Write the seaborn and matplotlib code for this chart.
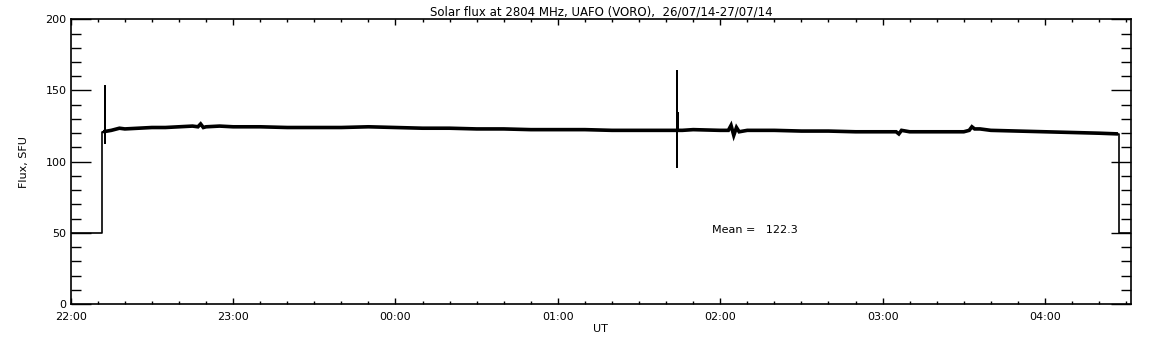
import numpy as np
import pandas as pd
import seaborn as sns
import matplotlib
matplotlib.use("Agg")
import matplotlib.pyplot as plt
from matplotlib.ticker import MultipleLocator, FixedLocator, FixedFormatter

# Time in minutes after 22:00 UT, flux in SFU
trace_min = [12.0, 13.5, 15, 18, 20, 25, 30, 35, 40, 45, 47, 48, 49, 50, 55, 60,
             70, 80, 90, 100, 110, 120, 130, 140, 150, 160, 170, 180, 190, 200,
             210, 220, 224, 226, 230, 240, 243, 244, 245, 246, 247, 250, 260,
             270, 280, 290, 300, 305, 306, 307, 310, 320, 330, 332, 333, 334,
             336, 340, 350, 360, 370, 380, 387]
trace_flux = [121, 121.5, 122, 123.5, 123, 123.5, 124, 124, 124.5, 125, 124.5, 126.5,
              124, 124.5, 125, 124.5, 124.5, 124, 124, 124, 124.5, 124, 123.5,
              123.5, 123, 123, 122.5, 122.5, 122.5, 122, 122, 122, 122, 122,
              122.5, 122, 122, 125.5, 118.5, 124, 121, 122, 122, 121.5, 121.5,
              121, 121, 121, 119.5, 122, 121, 121, 121, 122, 124.5, 123, 123,
              122, 121.5, 121, 120.5, 120, 119.5]

# Calibration steps at both ends and the two spikes
edge_min = [0, 11.7, 11.7, 12.8, 12.8, 12.8, 12.8, 12.0]
edge_flux = [50, 50, 121, 121, 153, 113, 121, 121]
end_min = [387, 387.4, 387.4, 391.8]
end_flux = [119.5, 119.5, 50, 50]
spike_min = [224.1, 224.1, 224.1, 224.1, 224.5, 224.5, 224.5]
spike_flux = [122, 164, 96, 122, 122, 134, 122]

hour_ticks = [0, 60, 120, 180, 240, 300, 360]
hour_labels = ["22:00", "23:00", "00:00", "01:00", "02:00", "03:00", "04:00"]

mean_text = "Mean =   122.3"
title = "Solar flux at 2804 MHz, UAFO (VORO),  26/07/14-27/07/14"

sns.set_style("white")
plt.rcParams["font.family"] = ["DejaVu Sans"]
plt.rcParams["axes.edgecolor"] = "black"
plt.rcParams["axes.linewidth"] = 1.2
plt.rcParams["text.color"] = "black"
plt.rcParams["axes.labelcolor"] = "black"
plt.rcParams["xtick.color"] = "black"
plt.rcParams["ytick.color"] = "black"

fig = plt.figure(figsize=(11.52, 3.45), dpi=100)
ax = fig.add_axes([0.0614, 0.1188, 0.9204, 0.8252])

sns.lineplot(x=trace_min, y=trace_flux, sort=False, estimator=None,
             color="black", linewidth=2.6, solid_joinstyle="miter",
             solid_capstyle="butt", ax=ax)
for xs, ys in [(edge_min, edge_flux), (end_min, end_flux), (spike_min, spike_flux)]:
    sns.lineplot(x=xs, y=ys, sort=False, estimator=None,
                 color="black", linewidth=1.2, ax=ax)

ax.set_xlim(0, 391.8)
ax.set_ylim(0, 200)

ax.xaxis.set_major_locator(FixedLocator(hour_ticks))
ax.xaxis.set_major_formatter(FixedFormatter(hour_labels))
ax.xaxis.set_minor_locator(MultipleLocator(10))
ax.yaxis.set_major_locator(MultipleLocator(50))
ax.yaxis.set_minor_locator(MultipleLocator(10))

ax.tick_params(axis="x", which="both", direction="in", top=True, bottom=True,
               labelsize=8, pad=6, width=1)
ax.tick_params(axis="x", which="major", length=4)
ax.tick_params(axis="x", which="minor", length=2)
ax.tick_params(axis="y", which="both", direction="in", left=True, right=True,
               labelsize=8, pad=3, width=1)
ax.tick_params(axis="y", which="major", length=14.5)
ax.tick_params(axis="y", which="minor", length=7.2)

for s in ax.spines.values():
    s.set_visible(True)

ax.text(236.8, 52, mean_text, fontsize=8, va="center", ha="left")

ax.set_xlabel("UT", fontsize=8, labelpad=1)
ax.set_ylabel("Flux, SFU", fontsize=8, labelpad=12)
ax.set_title(title, fontsize=8.5, pad=3)

fig.savefig("out.png", dpi=100, facecolor="white")
